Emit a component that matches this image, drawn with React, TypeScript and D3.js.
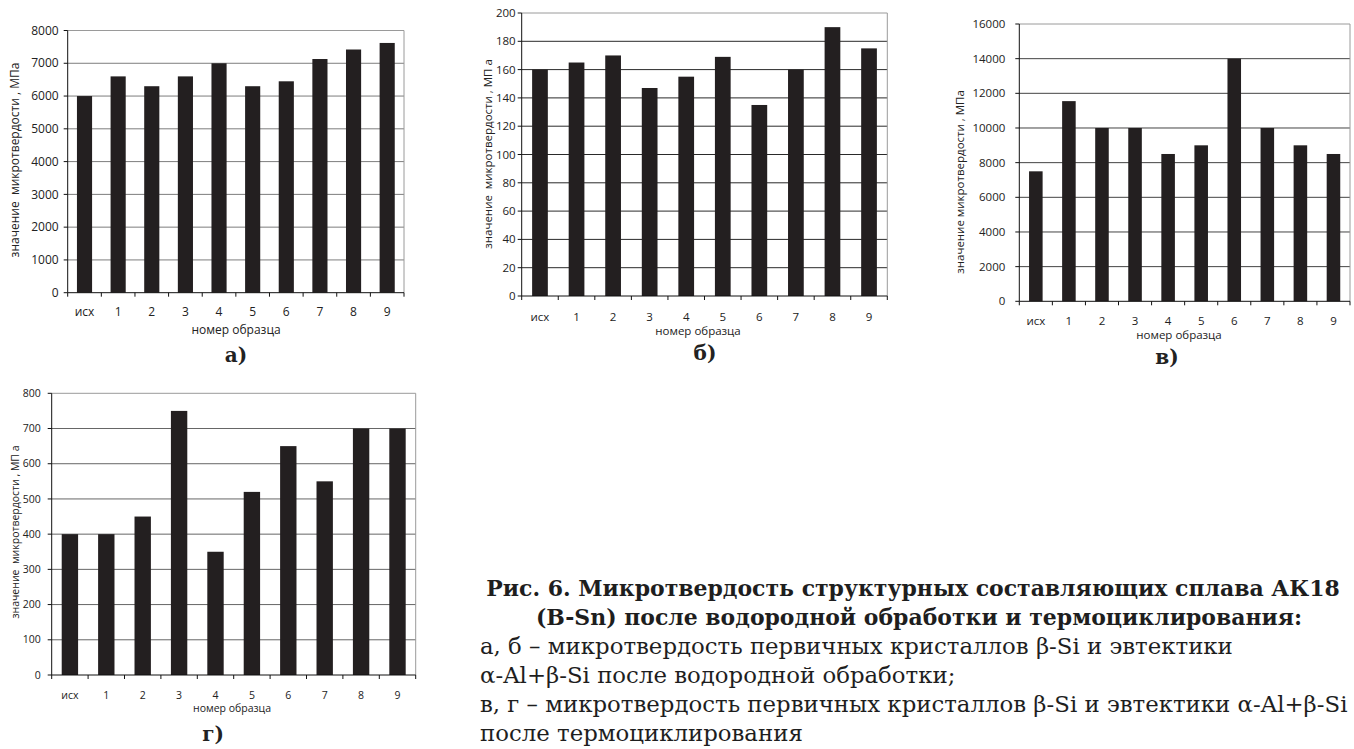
import React, { useRef, useEffect } from "react";
import * as d3 from "d3";

// номера образцов
const categories = ["исх", "1", "2", "3", "4", "5", "6", "7", "8", "9"];

// микротвердость, МПа
const valuesA = [6000, 6600, 6300, 6600, 7000, 6300, 6450, 7130, 7420, 7620];
const valuesB = [160, 165, 170, 147, 155, 169, 135, 160, 190, 175];
const valuesC = [7500, 11550, 10000, 10000, 8500, 9000, 14000, 10000, 9000, 8500];
const valuesD = [400, 400, 450, 750, 350, 520, 650, 550, 700, 700];

const ticksA = [0, 1000, 2000, 3000, 4000, 5000, 6000, 7000, 8000];
const ticksB = [0, 20, 40, 60, 80, 100, 120, 140, 160, 180, 200];
const ticksC = [0, 2000, 4000, 6000, 8000, 10000, 12000, 14000, 16000];
const ticksD = [0, 100, 200, 300, 400, 500, 600, 700, 800];

const xTitle = "номер образца";
const yTitles = [
  "значение  микротвердости , МПа",
  "значение  микротвердости , МП а",
  "значение микротвердости , МПа",
  "значение  микротвердости , МП а",
];
const panelLabels = ["а)", "б)", "в)", "г)"];

const captionBold = [
  "Рис. 6. Микротвердость структурных составляющих сплава АК18",
  "(B-Sn) после водородной обработки и термоциклирования:",
];
const captionPlain = [
  "а, б – микротвердость первичных кристаллов β-Si и эвтектики",
  "α-Al+β-Si после водородной обработки;",
  "в, г – микротвердость первичных кристаллов β-Si и эвтектики α-Al+β-Si",
  "после термоциклирования",
];

const width = 1354;
const height = 749;
const barColor = "#231f20";
const sans = "'Open Sans', 'Noto Sans', sans-serif";
const serif = "'DejaVu Serif', 'Liberation Serif', serif";

const panels = [
  { values: valuesA, ticks: ticksA, left: 67.7, right: 404, top: 30.5, bottom: 292.7, barFrac: 0.45, grid: "#7d7d7d", font: 12, tickGap: 9, xLabelY: 312, xTitleX: 236, xTitleY: 330, yTitleX: 15, yTitleY: 160, labelX: 236, labelY: 362 },
  { values: valuesB, ticks: ticksB, left: 521.7, right: 887.3, top: 13, bottom: 296, barFrac: 0.43, grid: "#2a2a2a", font: 11.5, tickGap: 6, xLabelY: 317, xTitleX: 698, xTitleY: 331, yTitleX: 488, yTitleY: 154, labelX: 705, labelY: 360 },
  { values: valuesC, ticks: ticksC, left: 1019.3, right: 1350, top: 24, bottom: 301.3, barFrac: 0.41, grid: "#444", font: 11.5, tickGap: 14, xLabelY: 321, xTitleX: 1179, xTitleY: 335, yTitleX: 960, yTitleY: 182, labelX: 1167, labelY: 364 },
  { values: valuesD, ticks: ticksD, left: 51.7, right: 415.7, top: 393.3, bottom: 675, barFrac: 0.45, grid: "#666", font: 10.5, tickGap: 11, xLabelY: 695, xTitleX: 232, xTitleY: 708, yTitleX: 15, yTitleY: 532, labelX: 213, labelY: 741 },
];

const renderPanel = (svg, p, i) => {
  const x = d3.scaleBand(categories, [p.left, p.right]).padding(0);
  const y = d3.scaleLinear([0, p.ticks[p.ticks.length - 1]], [p.bottom, p.top]);
  const g = svg.append("g");

  // сетка
  g.append("g")
    .selectAll("line")
    .data(p.ticks.slice(1))
    .join("line")
    .attr("x1", p.left)
    .attr("x2", p.right)
    .attr("y1", (d) => y(d))
    .attr("y2", (d) => y(d))
    .attr("stroke", (d, k) => (k === p.ticks.length - 2 ? "#9a9a9a" : p.grid))
    .attr("stroke-width", 1);

  g.append("line")
    .attr("x1", p.right)
    .attr("x2", p.right)
    .attr("y1", p.top)
    .attr("y2", p.bottom)
    .attr("stroke", "#9a9a9a");

  // столбцы
  const bw = x.bandwidth() * p.barFrac;
  g.append("g")
    .selectAll("rect")
    .data(p.values)
    .join("rect")
    .attr("x", (d, k) => x(categories[k]) + (x.bandwidth() - bw) / 2)
    .attr("y", (d) => y(d))
    .attr("width", bw)
    .attr("height", (d) => p.bottom - y(d))
    .attr("fill", barColor);

  // оси
  g.append("line")
    .attr("x1", p.left)
    .attr("x2", p.left)
    .attr("y1", p.top)
    .attr("y2", p.bottom)
    .attr("stroke", "#111");
  g.append("line")
    .attr("x1", p.left)
    .attr("x2", p.right)
    .attr("y1", p.bottom)
    .attr("y2", p.bottom)
    .attr("stroke", "#111");

  g.append("g")
    .selectAll("line")
    .data(p.ticks)
    .join("line")
    .attr("x1", p.left - 4)
    .attr("x2", p.left)
    .attr("y1", (d) => y(d))
    .attr("y2", (d) => y(d))
    .attr("stroke", "#111");

  const bounds = categories.map((c) => x(c)).concat([p.right]);
  g.append("g")
    .selectAll("line")
    .data(bounds)
    .join("line")
    .attr("x1", (d) => d)
    .attr("x2", (d) => d)
    .attr("y1", p.bottom)
    .attr("y2", p.bottom + 4)
    .attr("stroke", "#111");

  g.append("g")
    .selectAll("text")
    .data(p.ticks)
    .join("text")
    .attr("x", p.left - p.tickGap)
    .attr("y", (d) => y(d))
    .attr("dy", "0.35em")
    .attr("text-anchor", "end")
    .attr("font-family", sans)
    .attr("font-size", p.font)
    .attr("fill", "#222")
    .text((d) => d);

  g.append("g")
    .selectAll("text")
    .data(categories)
    .join("text")
    .attr("x", (d) => x(d) + x.bandwidth() / 2)
    .attr("y", p.xLabelY)
    .attr("dy", "0.35em")
    .attr("text-anchor", "middle")
    .attr("font-family", sans)
    .attr("font-size", p.font)
    .attr("fill", "#222")
    .text((d) => d);

  g.append("text")
    .attr("x", p.xTitleX)
    .attr("y", p.xTitleY)
    .attr("dy", "0.35em")
    .attr("text-anchor", "middle")
    .attr("font-family", sans)
    .attr("font-size", p.font)
    .attr("fill", "#222")
    .text(xTitle);

  g.append("text")
    .attr("transform", `translate(${p.yTitleX}, ${p.yTitleY}) rotate(-90)`)
    .attr("dy", "0.35em")
    .attr("text-anchor", "middle")
    .attr("font-family", sans)
    .attr("font-size", p.font)
    .attr("fill", "#222")
    .style("white-space", "pre")
    .text(yTitles[i]);

  g.append("text")
    .attr("x", p.labelX)
    .attr("y", p.labelY)
    .attr("text-anchor", "middle")
    .attr("font-family", serif)
    .attr("font-weight", "bold")
    .attr("font-size", 20)
    .attr("fill", "#222")
    .text(panelLabels[i]);
};

const renderCaption = (svg) => {
  const g = svg.append("g").attr("fill", "#1e1e1e").attr("font-family", serif);
  const base = 596;
  const step = 29;

  const bold = g
    .selectAll("text.bold")
    .data(captionBold)
    .join("text")
    .attr("class", "bold")
    .attr("x", (d, k) => (k === 0 ? 913 : 919))
    .attr("y", (d, k) => base + k * step)
    .attr("text-anchor", "middle")
    .attr("font-weight", "bold")
    .attr("font-size", 20)
    .text((d) => d);

  const plain = g
    .selectAll("text.plain")
    .data(captionPlain)
    .join("text")
    .attr("class", "plain")
    .attr("x", 480)
    .attr("y", (d, k) => base + (k + 2) * step)
    .attr("font-size", 20)
    .text((d) => d);

  // подгоняем кегль под ширину строк оригинала
  const w1 = bold.nodes()[0].getComputedTextLength();
  bold.attr("font-size", (20 * 854) / w1);
  const w5 = plain.nodes()[2].getComputedTextLength();
  plain.attr("font-size", (20 * 868) / w5);
};

const App = () => {
  const svgRef = useRef(null);

  useEffect(() => {
    if (!svgRef.current) return;
    const svg = d3.select(svgRef.current);
    svg.selectAll("*").remove();
    panels.forEach((p, i) => renderPanel(svg, p, i));
    renderCaption(svg);
  }, []);

  return (
    <svg
      ref={svgRef}
      width={width}
      height={height}
      style={{ position: "absolute", left: 0, top: 0, background: "white" }}
    />
  );
};

export default App;
